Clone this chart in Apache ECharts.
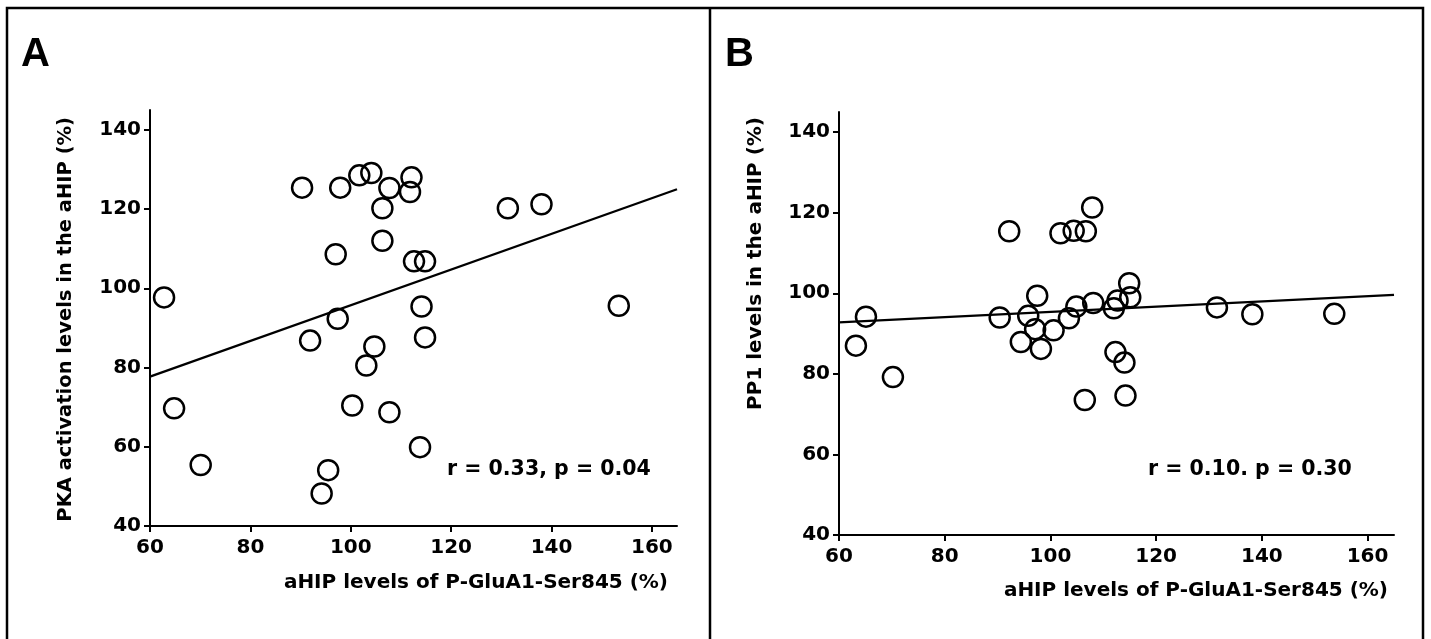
<!DOCTYPE html>
<html>
<head>
<meta charset="utf-8">
<script src="https://cdn.jsdelivr.net/npm/echarts@6/dist/echarts.min.js"></script>
<style>
  html, body { margin: 0; padding: 0; background: #fff; }
  #chart { width: 1431px; height: 639px; }
</style>
</head>
<body>
<div id="chart"></div>
<script>
// ---- Data ----
// Panel A: aHIP P-GluA1-Ser845 (%) vs PKA activation (%)
const xA = [62.8, 64.8, 70.1, 90.3, 91.9, 94.2, 95.5, 97.0, 97.4, 97.9, 100.3, 101.7, 103.1, 104.1, 104.7, 106.3, 106.3, 107.7, 107.7, 111.8, 112.1, 112.6, 113.8, 114.1, 114.8, 114.8, 131.3, 138.0, 153.4];
const yA = [97.7, 69.7, 55.4, 125.4, 86.8, 48.2, 54.1, 108.6, 92.3, 125.4, 70.4, 128.5, 80.5, 129.1, 85.3, 120.2, 112.0, 125.3, 68.7, 124.3, 128.0, 106.8, 59.9, 95.4, 106.8, 87.6, 120.2, 121.2, 95.6];
// Panel B: aHIP P-GluA1-Ser845 (%) vs PP1 (%)
const xB = [63.2, 65.1, 70.2, 90.4, 92.2, 94.4, 95.8, 97.1, 97.5, 98.2, 100.6, 101.9, 103.5, 104.4, 104.9, 106.5, 106.7, 107.9, 108.1, 112.0, 112.3, 112.7, 114.0, 114.2, 114.9, 115.1, 131.5, 138.2, 153.7];
const yB = [87.0, 94.2, 79.2, 94.0, 115.4, 87.9, 94.4, 91.1, 99.4, 86.2, 90.8, 114.9, 93.8, 115.5, 96.7, 73.5, 115.4, 121.3, 97.6, 96.3, 85.4, 98.2, 82.8, 74.6, 102.5, 99.0, 96.5, 94.8, 94.9];
// Fitted lines (end points)
const fitA = [[60, 77.7], [165, 125.0]];
const fitB = [[60, 92.8], [165, 99.6]];
// Axis ticks
const xTicks = [60, 80, 100, 120, 140, 160];
const yTicks = [40, 60, 80, 100, 120, 140];
// Texts
const panelLabels = ['A', 'B'];
const xTitle = 'aHIP levels of P-GluA1-Ser845 (%)';
const yTitles = ['PKA activation levels in the aHIP (%)', 'PP1 levels in the aHIP (%)'];
const statTexts = ['r = 0.33, p = 0.04', 'r = 0.10. p = 0.30'];

// ---- Chart ----
const FONT = "'DejaVu Sans', 'Noto Sans', sans-serif";
const chart = echarts.init(document.getElementById('chart'), null, { renderer: 'canvas' });

function pairs(xs, ys) { return xs.map((x, i) => [x, ys[i]]); }

function xAxisCfg(idx) {
  return {
    type: 'value', gridIndex: idx, min: 60, max: 165, interval: 20,
    axisLine: { show: true, onZero: false, lineStyle: { color: '#000', width: 2 } },
    axisTick: { show: true, inside: false, length: 6, lineStyle: { color: '#000', width: 2 }, customValues: xTicks },
    axisLabel: { show: true, margin: 12, color: '#000', fontFamily: FONT, fontWeight: 'bold', fontSize: 20, customValues: xTicks, formatter: v => String(v) },
    splitLine: { show: false }
  };
}
function yAxisCfg(idx) {
  return {
    type: 'value', gridIndex: idx, min: 40, max: 145, interval: 20,
    axisLine: { show: true, onZero: false, lineStyle: { color: '#000', width: 2 } },
    axisTick: { show: true, inside: false, length: 6, lineStyle: { color: '#000', width: 2 }, customValues: yTicks },
    axisLabel: { show: true, margin: 9, color: '#000', fontFamily: FONT, fontWeight: 'bold', fontSize: 20, customValues: yTicks, formatter: v => String(v) },
    splitLine: { show: false }
  };
}
function scatterCfg(idx, data) {
  return {
    type: 'scatter', xAxisIndex: idx, yAxisIndex: idx, data: data,
    symbol: 'circle', symbolSize: 20,
    itemStyle: { color: 'rgba(255,255,255,0)', borderColor: '#000', borderWidth: 2.5, opacity: 1 },
    emphasis: { disabled: true }, silent: true, z: 3
  };
}
function lineCfg(idx, data) {
  return {
    type: 'line', xAxisIndex: idx, yAxisIndex: idx, data: data,
    showSymbol: false, symbol: 'none', clip: true,
    lineStyle: { color: '#000', width: 2.3, opacity: 1 }, silent: true, z: 2
  };
}
function txt(x, y, text, font, align, valign, rot) {
  return {
    type: 'text', x: x, y: y, rotation: rot || 0, silent: true,
    style: { text: text, font: font, fill: '#000', textAlign: align, textVerticalAlign: valign }
  };
}

const titleFont = "bold 20px " + FONT;
const yTitleFontA = "bold 19.5px " + FONT;
const statFont = "bold 20.5px " + FONT;
const letterFont = "bold 40px 'Liberation Sans', Arial, sans-serif";

const option = {
  animation: false,
  backgroundColor: '#fff',
  grid: [
    { left: 150, top: 110, width: 527, height: 416, containLabel: false },
    { left: 839, top: 112, width: 555, height: 423, containLabel: false }
  ],
  xAxis: [xAxisCfg(0), xAxisCfg(1)],
  yAxis: [yAxisCfg(0), yAxisCfg(1)],
  series: [
    lineCfg(0, fitA), scatterCfg(0, pairs(xA, yA)),
    lineCfg(1, fitB), scatterCfg(1, pairs(xB, yB))
  ],
  graphic: [
    // panel frames
    { type: 'polyline', silent: true, shape: { points: [[7, 645], [7, 8], [1423, 8], [1423, 645]] }, style: { stroke: '#000', lineWidth: 2.5, fill: null } },
    { type: 'line', silent: true, shape: { x1: 710, y1: 8, x2: 710, y2: 645 }, style: { stroke: '#000', lineWidth: 2.5 } },
    // panel letters
    txt(21, 55, panelLabels[0], letterFont, 'left', 'middle'),
    txt(725, 55, panelLabels[1], letterFont, 'left', 'middle'),
    // x titles
    txt(668, 583, xTitle, titleFont, 'right', 'middle'),
    txt(1388, 591, xTitle, titleFont, 'right', 'middle'),
    // y titles (rotated, end aligned at top)
    txt(66, 117, yTitles[0], yTitleFontA, 'right', 'middle', Math.PI / 2),
    txt(756, 117, yTitles[1], titleFont, 'right', 'middle', Math.PI / 2),
    // statistics
    txt(447, 470, statTexts[0], statFont, 'left', 'middle'),
    txt(1148, 470, statTexts[1], statFont, 'left', 'middle')
  ]
};
chart.setOption(option);
</script>
</body>
</html>
